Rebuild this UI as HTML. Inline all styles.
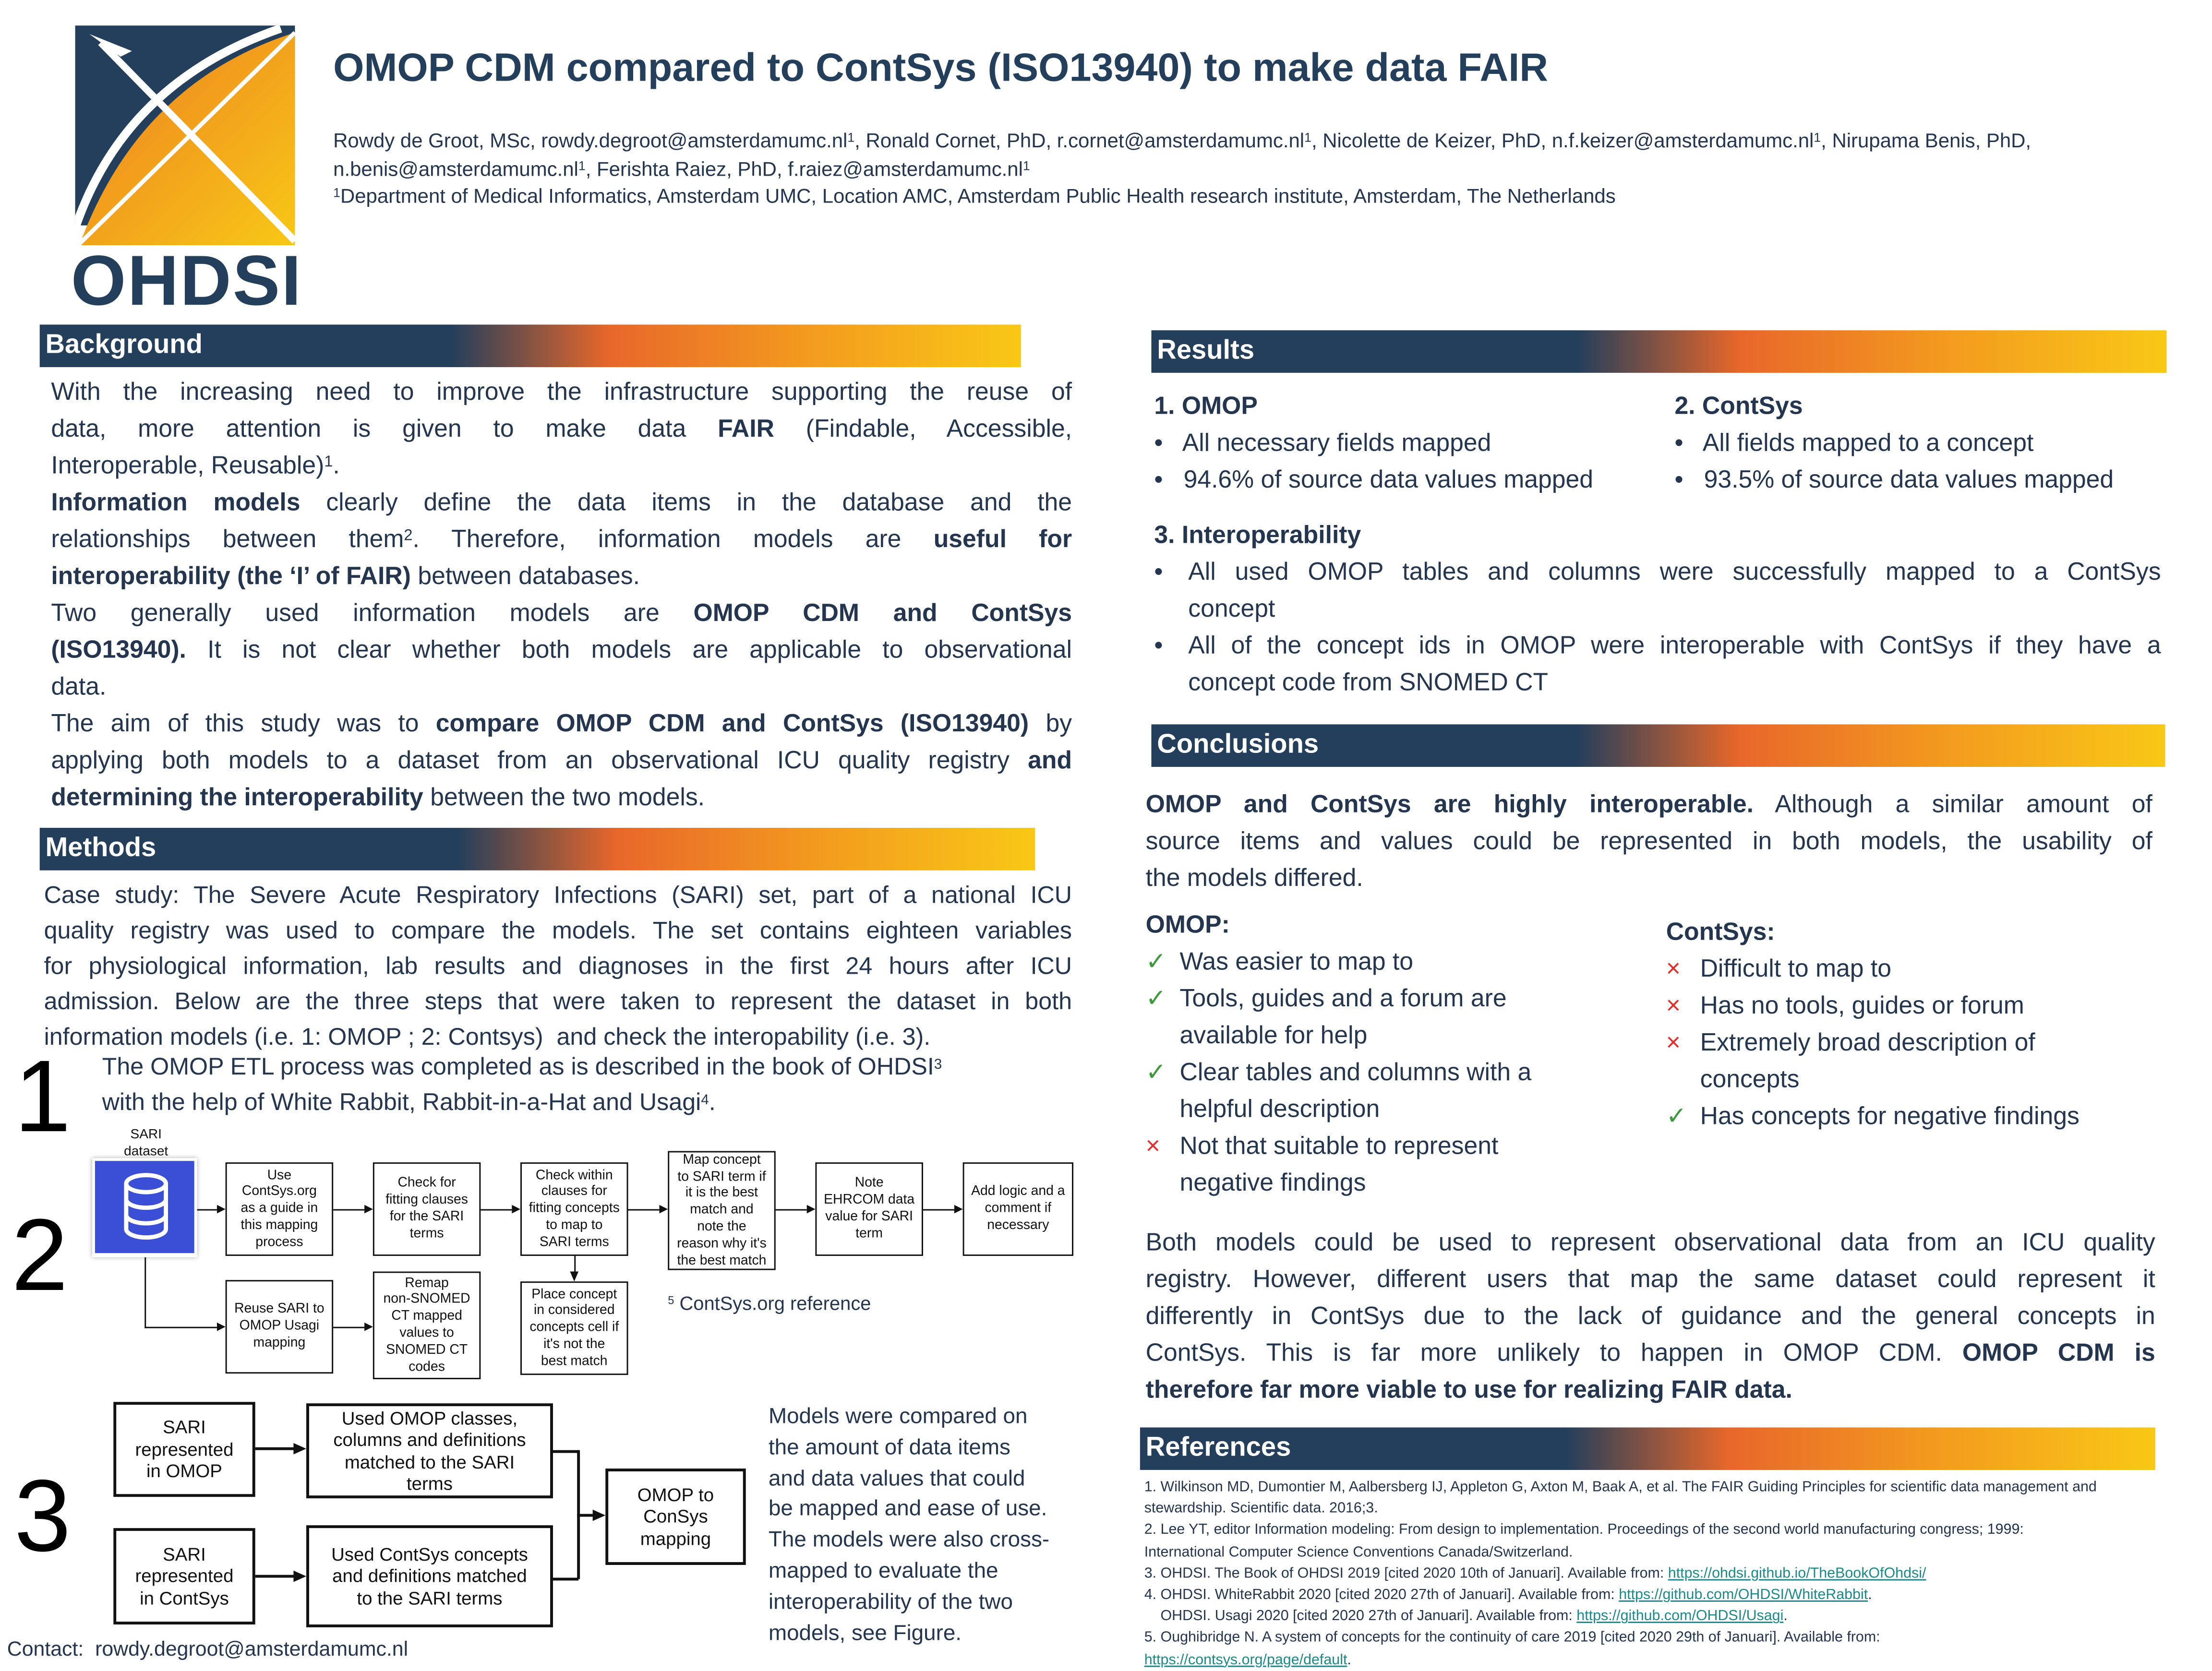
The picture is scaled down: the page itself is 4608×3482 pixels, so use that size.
<!DOCTYPE html>
<html><head><meta charset="utf-8">
<style>
html,body{margin:0;padding:0;background:#fff;}
body{width:4608px;height:3456px;overflow:hidden;position:relative;}
#w{position:absolute;left:0;top:0;width:1560px;height:1170px;transform:scale(2.9538);transform-origin:0 0;font-family:"Liberation Sans",sans-serif;color:#24354f;}
sup{line-height:0;vertical-align:baseline;position:relative;top:-0.45em;}
.a{position:absolute;}
.bar{position:absolute;height:30px;background:linear-gradient(90deg,#243f5b 0%,#243f5b 42%,#e8672a 58%,#f39a1e 78%,#f9c816 100%);color:#fff;font-weight:bold;font-size:19px;line-height:30px;padding-left:4px;box-sizing:border-box;}
.t{position:absolute;font-size:17.5px;line-height:26px;white-space:nowrap;}
.j{text-align:justify;text-align-last:justify;}
.bx{position:absolute;border:1.3px solid #111;box-sizing:border-box;display:flex;align-items:center;justify-content:center;text-align:center;font-size:9.6px;line-height:11.8px;color:#111;background:#fff;}
.bx3{font-size:13px;line-height:15.5px;border-width:2px;}
.ln{position:absolute;background:#111;}
.ar{position:absolute;width:0;height:0;border-top:3.5px solid transparent;border-bottom:3.5px solid transparent;border-left:6px solid #111;}
.big{position:absolute;font-size:72px;line-height:72px;color:#000;}
.ck{color:#3c9a3c;display:inline-block;width:24px;}
.x{color:#e0302c;display:inline-block;width:24px;}
.ref{position:absolute;left:807px;font-size:10.3px;line-height:15.2px;white-space:nowrap;color:#24354f;}
.lk{color:#1a8a8a;text-decoration:underline;}
</style></head><body><div id="w">

<!-- logo -->
<svg class="a" style="left:53px;top:18px" width="157" height="156" viewBox="0 0 157 156">
<defs><linearGradient id="og" x1="0" y1="0" x2="1" y2="1"><stop offset="0" stop-color="#ec7c22"/><stop offset="1" stop-color="#f8c816"/></linearGradient></defs>
<rect x="0" y="0" width="155" height="141" fill="#243f5b"/>
<path d="M3,155 Q45,40 155,5 L155,155 Z" fill="url(#og)"/>
<path d="M0,143 Q35,40 145,2" stroke="#fff" stroke-width="6" fill="none"/>
<line x1="2" y1="155" x2="155" y2="5" stroke="#fff" stroke-width="3"/>
<line x1="18" y1="12" x2="155" y2="152" stroke="#fff" stroke-width="5"/>
<polygon points="10,6 40,18 32,22" fill="#fff"/>
</svg>
<div class="a" style="left:50px;top:172px;font-size:50px;font-weight:bold;color:#243f5b;line-height:52px;letter-spacing:1px">OHDSI</div>

<!-- title -->
<div class="a" style="left:235px;top:32px;font-size:28px;font-weight:bold;color:#243f5b;white-space:nowrap">OMOP CDM compared to ContSys (ISO13940) to make data FAIR</div>
<div class="a" style="left:235px;top:91px;font-size:14.2px;line-height:19.6px;white-space:nowrap;color:#24354f">Rowdy de Groot, MSc, rowdy.degroot@amsterdamumc.nl<sup style="font-size:9px">1</sup>, Ronald Cornet, PhD, r.cornet@amsterdamumc.nl<sup style="font-size:9px">1</sup>, Nicolette de Keizer, PhD, n.f.keizer@amsterdamumc.nl<sup style="font-size:9px">1</sup>, Nirupama Benis, PhD,<br>n.benis@amsterdamumc.nl<sup style="font-size:9px">1</sup>, Ferishta Raiez, PhD, f.raiez@amsterdamumc.nl<sup style="font-size:9px">1</sup><br><sup style="font-size:9px">1</sup>Department of Medical Informatics, Amsterdam UMC, Location AMC, Amsterdam Public Health research institute, Amsterdam, The Netherlands</div>

<!-- Background -->
<div class="bar" style="left:28px;top:229px;width:692px">Background</div>
<div class="t" style="left:36px;top:263px;width:720px">
<div class="j">With the increasing need to improve the infrastructure supporting the reuse of</div>
<div class="j">data, more attention is given to make data <b>FAIR</b> (Findable, Accessible,</div>
<div>Interoperable, Reusable)<sup style="font-size:11px">1</sup>.</div>
<div class="j"><b>Information models</b> clearly define the data items in the database and the</div>
<div class="j">relationships between them<sup style="font-size:11px">2</sup>. Therefore, information models are <b>useful for</b></div>
<div><b>interoperability (the ‘I’ of FAIR)</b> between databases.</div>
<div class="j">Two generally used information models are <b>OMOP CDM and ContSys</b></div>
<div class="j"><b>(ISO13940).</b> It is not clear whether both models are applicable to observational</div>
<div>data.</div>
<div class="j">The aim of this study was to <b>compare OMOP CDM and ContSys (ISO13940)</b> by</div>
<div class="j">applying both models to a dataset from an observational ICU quality registry <b>and</b></div>
<div><b>determining the interoperability</b> between the two models.</div>
</div>

<!-- Methods -->
<div class="bar" style="left:28px;top:584px;width:702px">Methods</div>
<div class="t" style="left:31px;top:619px;width:725px;font-size:17px;line-height:25px">
<div class="j">Case study: The Severe Acute Respiratory Infections (SARI) set, part of a national ICU</div>
<div class="j">quality registry was used to compare the models. The set contains eighteen variables</div>
<div class="j">for physiological information, lab results and diagnoses in the first 24 hours after ICU</div>
<div class="j">admission. Below are the three steps that were taken to represent the dataset in both</div>
<div>information models (i.e. 1: OMOP ; 2: Contsys)&nbsp; and check the interopability (i.e. 3).</div>
</div>
<div class="big" style="left:10px;top:738px">1</div>
<div class="t" style="left:72px;top:740px;font-size:17px;line-height:25px">The OMOP ETL process was completed as is described in the book of OHDSI<sup style="font-size:10px">3</sup><br>with the help of White Rabbit, Rabbit-in-a-Hat and Usagi<sup style="font-size:10px">4</sup>.</div>
<div class="big" style="left:8px;top:850px">2</div>
<div class="big" style="left:10px;top:1034px">3</div>

<!-- diagram 2 -->
<div class="a" style="left:78px;top:795px;width:50px;text-align:center;font-size:9.5px;line-height:11.5px;color:#111">SARI<br>dataset</div>
<div class="a" style="left:65px;top:817px;width:74px;height:70px;background:#fff;box-shadow:0 0 3px #aaa"></div>
<div class="a" style="left:67px;top:819px;width:70px;height:65px;background:#3a4fd6"></div>
<svg class="a" style="left:86px;top:826px" width="34" height="50" viewBox="0 0 34 50"><g fill="none" stroke="#fff" stroke-width="3"><ellipse cx="17" cy="9" rx="14" ry="6"/><path d="M3,9 V41 A14,6 0 0 0 31,41 V9"/><path d="M3,20 A14,6 0 0 0 31,20"/><path d="M3,31 A14,6 0 0 0 31,31"/></g></svg>

<div class="bx" style="left:159px;top:820px;width:76px;height:66px">Use<br>ContSys.org<br>as a guide in<br>this mapping<br>process</div>
<div class="bx" style="left:263px;top:820px;width:76px;height:66px">Check for<br>fitting clauses<br>for the SARI<br>terms</div>
<div class="bx" style="left:367px;top:820px;width:76px;height:66px">Check within<br>clauses for<br>fitting concepts<br>to map to<br>SARI terms</div>
<div class="bx" style="left:471px;top:812px;width:76px;height:84px">Map concept<br>to SARI term if<br>it is the best<br>match and<br>note the<br>reason why it's<br>the best match</div>
<div class="bx" style="left:575px;top:820px;width:76px;height:66px">Note<br>EHRCOM data<br>value for SARI<br>term</div>
<div class="bx" style="left:679px;top:820px;width:78px;height:66px">Add logic and a<br>comment if<br>necessary</div>
<div class="bx" style="left:159px;top:903px;width:76px;height:66px">Reuse SARI to<br>OMOP Usagi<br>mapping</div>
<div class="bx" style="left:263px;top:897px;width:76px;height:76px">Remap<br>non-SNOMED<br>CT mapped<br>values to<br>SNOMED CT<br>codes</div>
<div class="bx" style="left:367px;top:904px;width:76px;height:66px">Place concept<br>in considered<br>concepts cell if<br>it's not the<br>best match</div>

<div class="ln" style="left:139px;top:853px;width:14px;height:1.3px"></div><div class="ar" style="left:153px;top:850px"></div>
<div class="ln" style="left:235px;top:853px;width:22px;height:1.3px"></div><div class="ar" style="left:257px;top:850px"></div>
<div class="ln" style="left:339px;top:853px;width:22px;height:1.3px"></div><div class="ar" style="left:361px;top:850px"></div>
<div class="ln" style="left:443px;top:853px;width:22px;height:1.3px"></div><div class="ar" style="left:465px;top:850px"></div>
<div class="ln" style="left:547px;top:853px;width:22px;height:1.3px"></div><div class="ar" style="left:569px;top:850px"></div>
<div class="ln" style="left:651px;top:853px;width:22px;height:1.3px"></div><div class="ar" style="left:673px;top:850px"></div>
<div class="ln" style="left:102px;top:887px;width:1.3px;height:50px"></div>
<div class="ln" style="left:102px;top:936px;width:51px;height:1.3px"></div><div class="ar" style="left:153px;top:933px"></div>
<div class="ln" style="left:235px;top:936px;width:22px;height:1.3px"></div><div class="ar" style="left:257px;top:933px"></div>
<div class="ln" style="left:404.5px;top:886px;width:1.3px;height:12px"></div>
<div class="a" style="left:401.5px;top:897px;width:0;height:0;border-left:3.5px solid transparent;border-right:3.5px solid transparent;border-top:7px solid #111"></div>
<div class="a" style="left:471px;top:912px;font-size:13.5px;color:#24354f;white-space:nowrap"><sup style="font-size:8px">5</sup> ContSys.org reference</div>

<!-- diagram 3 -->
<div class="bx bx3" style="left:80px;top:989px;width:100px;height:67px">SARI<br>represented<br>in OMOP</div>
<div class="bx bx3" style="left:216px;top:990px;width:174px;height:67px">Used OMOP classes,<br>columns and definitions<br>matched to the SARI<br>terms</div>
<div class="bx bx3" style="left:80px;top:1078px;width:100px;height:68px">SARI<br>represented<br>in ContSys</div>
<div class="bx bx3" style="left:216px;top:1076px;width:174px;height:72px">Used ContSys concepts<br>and definitions matched<br>to the SARI terms</div>
<div class="bx bx3" style="left:427px;top:1036px;width:99px;height:68px">OMOP to<br>ConSys<br>mapping</div>
<div class="ln" style="left:180px;top:1021px;width:28px;height:2px"></div><div class="ar" style="left:207px;top:1018px;border-left-width:9px;border-top-width:4px;border-bottom-width:4px"></div>
<div class="ln" style="left:180px;top:1111px;width:28px;height:2px"></div><div class="ar" style="left:207px;top:1108px;border-left-width:9px;border-top-width:4px;border-bottom-width:4px"></div>
<div class="ln" style="left:390px;top:1023px;width:18px;height:1.5px"></div>
<div class="ln" style="left:390px;top:1113px;width:18px;height:1.5px"></div>
<div class="ln" style="left:407px;top:1023px;width:1.5px;height:91px"></div>
<div class="ln" style="left:407px;top:1068px;width:12px;height:2px"></div><div class="ar" style="left:418px;top:1065px;border-left-width:9px;border-top-width:4px;border-bottom-width:4px"></div>
<div class="t" style="left:542px;top:989px;font-size:15.5px;line-height:21.8px">Models were compared on<br>the amount of data items<br>and data values that could<br>be mapped and ease of use.<br>The models were also cross-<br>mapped to evaluate the<br>interoperability of the two<br>models, see Figure.</div>
<div class="a" style="left:5px;top:1156px;font-size:14.5px;color:#24354f;white-space:nowrap">Contact:&nbsp; rowdy.degroot@amsterdamumc.nl</div>

<!-- Results -->
<div class="bar" style="left:812px;top:233px;width:716px">Results</div>
<div class="t" style="left:814px;top:273px"><b>1. OMOP</b><br>•&nbsp;&nbsp; All necessary fields mapped<br>•&nbsp;&nbsp; 94.6% of source data values mapped</div>
<div class="t" style="left:1181px;top:273px"><b>2. ContSys</b><br>•&nbsp;&nbsp; All fields mapped to a concept<br>•&nbsp;&nbsp; 93.5% of source data values mapped</div>
<div class="t" style="left:814px;top:364px"><b>3. Interoperability</b></div>
<div class="t" style="left:814px;top:390px">•<br><br>•</div>
<div class="t" style="left:838px;top:390px;width:686px">
<div class="j">All used OMOP tables and columns were successfully mapped to a ContSys</div>
<div>concept</div>
<div class="j">All of the concept ids in OMOP were interoperable with ContSys if they have a</div>
<div>concept code from SNOMED CT</div>
</div>

<!-- Conclusions -->
<div class="bar" style="left:812px;top:511px;width:715px">Conclusions</div>
<div class="t" style="left:808px;top:554px;width:710px">
<div class="j"><b>OMOP and ContSys are highly interoperable.</b> Although a similar amount of</div>
<div class="j">source items and values could be represented in both models, the usability of</div>
<div>the models differed.</div>
</div>
<div class="t" style="left:808px;top:639px"><b>OMOP:</b><br><span class="ck">✓</span>Was easier to map to<br><span class="ck">✓</span>Tools, guides and a forum are<br><span class="ck"></span>available for help<br><span class="ck">✓</span>Clear tables and columns with a<br><span class="ck"></span>helpful description<br><span class="x">×</span>Not that suitable to represent<br><span class="x"></span>negative findings</div>
<div class="t" style="left:1175px;top:644px"><b>ContSys:</b><br><span class="x">×</span>Difficult to map to<br><span class="x">×</span>Has no tools, guides or forum<br><span class="x">×</span>Extremely broad description of<br><span class="x"></span>concepts<br><span class="ck">✓</span>Has concepts for negative findings</div>
<div class="t" style="left:808px;top:863px;width:712px">
<div class="j">Both models could be used to represent observational data from an ICU quality</div>
<div class="j">registry. However, different users that map the same dataset could represent it</div>
<div class="j">differently in ContSys due to the lack of guidance and the general concepts in</div>
<div class="j">ContSys. This is far more unlikely to happen in OMOP CDM. <b>OMOP CDM is</b></div>
<div><b>therefore far more viable to use for realizing FAIR data.</b></div>
</div>

<!-- References -->
<div class="bar" style="left:804px;top:1007px;width:716px">References</div>
<div class="ref" style="top:1042px">1. Wilkinson MD, Dumontier M, Aalbersberg IJ, Appleton G, Axton M, Baak A, et al. The FAIR Guiding Principles for scientific data management and<br>stewardship. Scientific data. 2016;3.<br>2. Lee YT, editor Information modeling: From design to implementation. Proceedings of the second world manufacturing congress; 1999:<br>International Computer Science Conventions Canada/Switzerland.<br>3. OHDSI. The Book of OHDSI 2019 [cited 2020 10th of Januari]. Available from: <span class="lk">https://ohdsi.github.io/TheBookOfOhdsi/</span><br>4. OHDSI. WhiteRabbit 2020 [cited 2020 27th of Januari]. Available from: <span class="lk">https://github.com/OHDSI/WhiteRabbit</span>.<br>&nbsp;&nbsp;&nbsp; OHDSI. Usagi 2020 [cited 2020 27th of Januari]. Available from: <span class="lk">https://github.com/OHDSI/Usagi</span>.<br>5. Oughibridge N. A system of concepts for the continuity of care 2019 [cited 2020 29th of Januari]. Available from:<br><span class="lk">https://contsys.org/page/default</span>.</div>

</div></body></html>
